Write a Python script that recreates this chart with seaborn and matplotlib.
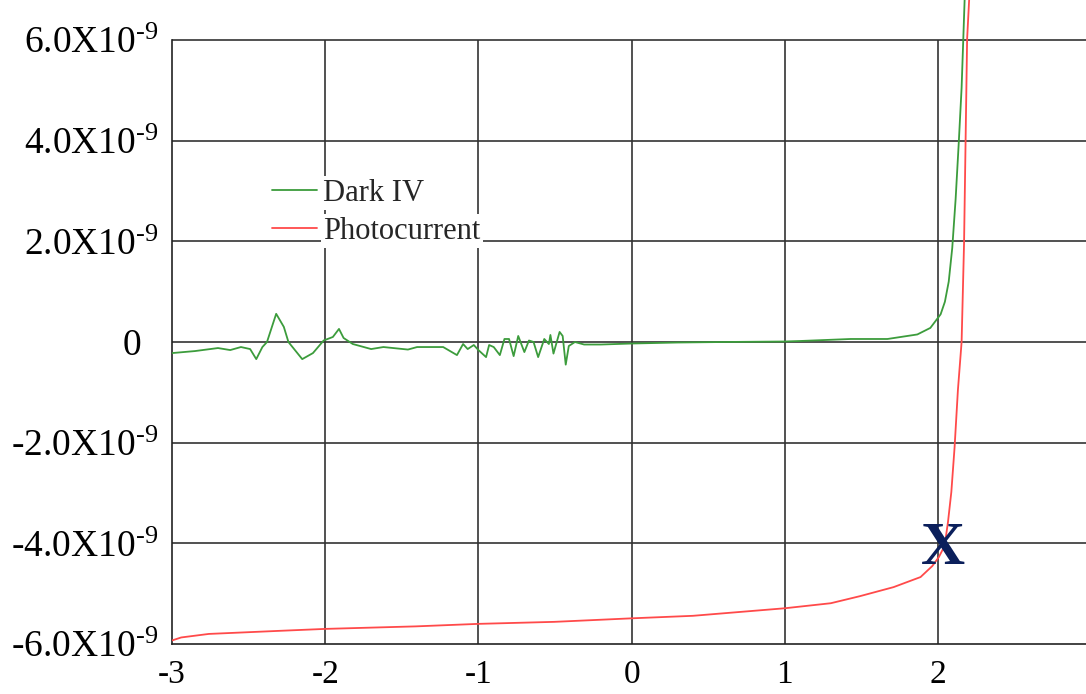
import numpy as np
import pandas as pd
import matplotlib
matplotlib.use("Agg")
import matplotlib.pyplot as plt
import seaborn as sns

sns.set_theme(style="white")
plt.rcParams["font.family"] = ["Liberation Serif", "DejaVu Serif"]
plt.rcParams["mathtext.fontset"] = "custom"
plt.rcParams["mathtext.rm"] = "Liberation Serif"
plt.rcParams["mathtext.it"] = "Liberation Serif:italic"
plt.rcParams["mathtext.bf"] = "Liberation Serif:bold"

# %% data (voltage in V, current in nA)
dark_v = [-3.00, -2.85, -2.70, -2.62, -2.55, -2.49, -2.45, -2.41, -2.38, -2.32,
          -2.27, -2.24, -2.15, -2.08, -2.01, -1.95, -1.91, -1.88, -1.82, -1.70,
          -1.62, -1.46, -1.40, -1.23, -1.14, -1.10, -1.07, -1.03, -1.00, -0.95,
          -0.93, -0.90, -0.86, -0.83, -0.80, -0.77, -0.74, -0.70, -0.67, -0.64,
          -0.61, -0.57, -0.54, -0.53, -0.51, -0.47, -0.45, -0.43, -0.41, -0.37,
          -0.31, -0.20, 0.00, 0.30, 0.60, 1.00, 1.10, 1.43, 1.67, 1.865,
          1.95, 2.017, 2.045, 2.07, 2.093, 2.115, 2.136, 2.154, 2.165, 2.174, 2.18]
dark_i = [-0.22, -0.18, -0.12, -0.16, -0.10, -0.14, -0.34, -0.10, 0.00, 0.56,
          0.30, 0.00, -0.34, -0.22, 0.03, 0.10, 0.26, 0.08, -0.04, -0.14,
          -0.10, -0.15, -0.10, -0.10, -0.26, -0.04, -0.14, -0.06, -0.16, -0.30,
          -0.06, -0.10, -0.26, 0.06, 0.06, -0.28, 0.12, -0.20, 0.03, 0.00,
          -0.30, 0.06, -0.04, 0.14, -0.23, 0.20, 0.12, -0.45, -0.08, 0.00,
          -0.05, -0.05, -0.03, -0.01, 0.00, 0.01, 0.02, 0.06, 0.06, 0.15,
          0.28, 0.55, 0.80, 1.20, 1.87, 2.84, 3.99, 5.05, 6.02, 6.82, 7.20]

photo_v = [-3.00, -2.94, -2.76, -2.31, -2.00, -1.41, -1.00, -0.505, 0.00, 0.40,
           1.00, 1.30, 1.49, 1.71, 1.886, 1.963, 2.006, 2.043, 2.065, 2.087,
           2.108, 2.13, 2.154, 2.17, 2.18, 2.19, 2.205]
photo_i = [-5.93, -5.87, -5.80, -5.74, -5.70, -5.65, -5.60, -5.56, -5.49, -5.44,
           -5.29, -5.19, -5.05, -4.87, -4.67, -4.45, -4.27, -4.05, -3.58, -2.98,
           -2.10, -0.95, 0.00, 1.96, 3.99, 6.02, 6.90]

xticks = [-3, -2, -1, 0, 1, 2]
xticklabels = ["-3", "-2", "-1", "0", "1", "2"]
yticks = [-6, -4, -2, 0, 2, 4, 6]
yticklabels = [r"-6.0X10$^{\text{-9}}$", r"-4.0X10$^{\text{-9}}$", r"-2.0X10$^{\text{-9}}$",
               "0 \u2009", r"2.0X10$^{\text{-9}}$", r"4.0X10$^{\text{-9}}$", r"6.0X10$^{\text{-9}}$"]

df = pd.concat([
    pd.DataFrame({"V": dark_v, "I": np.array(dark_i) * 1e-9, "curve": "Dark IV"}),
    pd.DataFrame({"V": photo_v, "I": np.array(photo_i) * 1e-9, "curve": "Photocurrent"}),
])

# %%
fig = plt.figure(figsize=(10.86, 6.94), dpi=100)
ax = fig.add_axes([172 / 1086, 50 / 694, 1 - 172 / 1086, 644 / 694])

ymax = 6.795e-9
ax.set_xlim(-3, 2.966)
ax.set_ylim(-6e-9, ymax)

grid_kw = dict(color="#333333", lw=1.2, zorder=1)
ax.hlines([y * 1e-9 for y in yticks[1:]], -3, 2.966, **grid_kw)
ax.vlines(xticks[1:], -6e-9, 6e-9, **grid_kw)

sns.lineplot(data=df, x="V", y="I", hue="curve", palette=["#3c9c3c", "#ff4a4a"],
             estimator=None, sort=False, lw=1.3, ax=ax, zorder=3, legend=False)

ax.set_xticks(xticks)
ax.set_xticklabels(xticklabels, fontsize=24)
ax.set_yticks([y * 1e-9 for y in yticks])
ax.set_yticklabels(yticklabels, fontsize=27)
ax.tick_params(axis="x", length=0, pad=11, colors="black")
ax.tick_params(axis="y", length=0, pad=10, colors="black")
ax.set_xlabel("")
ax.set_ylabel("")

for s in ["top", "right"]:
    ax.spines[s].set_visible(False)
ax.spines["left"].set_bounds(-6e-9, 6e-9)
ax.spines["left"].set_color("#222222")
ax.spines["bottom"].set_color("#222222")
ax.spines["left"].set_linewidth(1.2)
ax.spines["bottom"].set_linewidth(1.2)

handles = [plt.Line2D([], [], color="#3c9c3c", lw=1.3),
           plt.Line2D([], [], color="#ff4a4a", lw=1.3)]
leg = ax.legend(handles, ["Dark IV", "Photocurrent"], loc="upper left",
                bbox_to_anchor=(270 / 1086, 1 - 177 / 694), bbox_transform=fig.transFigure,
                fontsize=22, frameon=False, handlelength=1.5, handletextpad=0.2,
                borderpad=0.05, labelspacing=0.3, borderaxespad=0)
leg.set_zorder(5)
for t in leg.get_texts():
    t.set_bbox(dict(facecolor="white", edgecolor="none", pad=2))

ax.text(2.03, -4.12e-9, "X", fontsize=44, fontweight="bold", color="#0b1f5b",
        ha="center", va="center", zorder=6)

fig.savefig("out.png", dpi=100)
